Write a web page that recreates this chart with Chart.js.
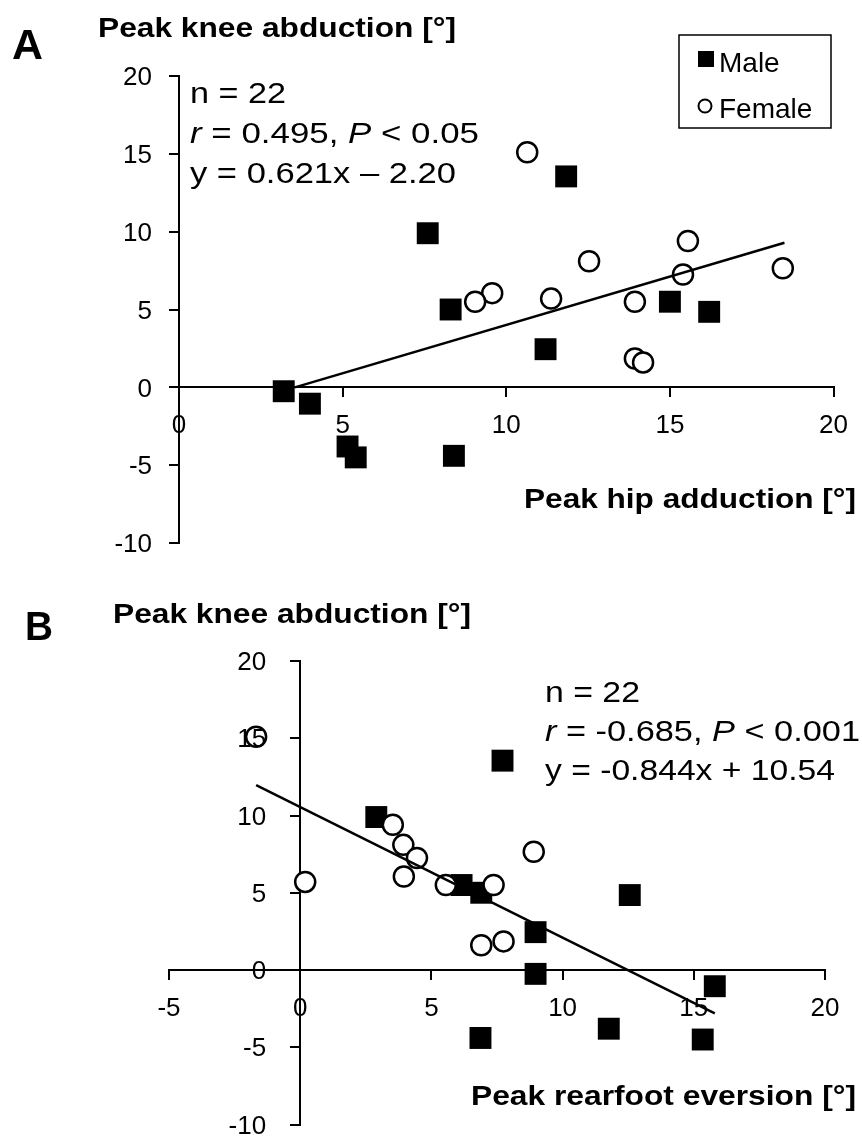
<!DOCTYPE html>
<html>
<head>
<meta charset="utf-8">
<script src="https://cdn.jsdelivr.net/npm/chart.js@4.4.1/dist/chart.umd.min.js"></script>
<style>
  html, body { margin: 0; padding: 0; background: #fff; }
  canvas { display: block; }
</style>
</head>
<body>
<canvas id="chartA" width="862" height="570"></canvas>
<canvas id="chartB" width="862" height="570"></canvas>
<script>
// Valeurs (genou commun aux deux panneaux)
const maleKnee = [13.55, 9.9, 5.5, 5.0, 4.85, 2.45, -0.25, -1.05, -3.8, -4.4, -4.5];
const maleHip = [11.83, 7.6, 15.0, 8.3, 16.2, 11.2, 3.2, 4.0, 5.15, 8.4, 5.4];
const maleRearfoot = [7.71, 2.9, 6.15, 6.9, 12.56, 8.97, 8.97, 15.8, 11.76, 6.87, 15.34];

const femaleKnee = [15.1, 9.4, 8.1, 7.65, 7.25, 6.05, 5.7, 5.5, 5.5, 1.85, 1.6];
const femaleHip = [10.64, 15.55, 12.53, 18.45, 15.4, 9.57, 11.37, 9.05, 13.93, 13.93, 14.18];
const femaleRearfoot = [-1.68, 3.53, 3.93, 8.9, 4.45, 3.95, 0.19, 5.55, 7.37, 7.75, 6.9];

// Droites de régression (extrémités lues)
const trendA_x = [3.54, 18.5];
const trendA_y = [0.0, 9.29];
const trendB_x = [-1.68, 15.8];
const trendB_y = [11.96, -2.8];

const ticksA_x = [0, 20];
const ticksB_x = [-5, 20];
const ticksY = [-10, 20];

const FONT = "'Liberation Sans', Arial, sans-serif";
const TICK_SIZE = 26;

function pts(xs, ys) {
  return xs.map((x, i) => ({ x: x, y: ys[i] }));
}

// Texte étiré horizontalement pour coller à la largeur de la figure
function drawText(ctx, parts, x, y, width) {
  let natural = 0;
  parts.forEach(p => { ctx.font = p[1]; natural += ctx.measureText(p[0]).width; });
  const s = width ? width / natural : 1;
  ctx.save();
  ctx.translate(x, y);
  ctx.scale(s, 1);
  ctx.fillStyle = "#000";
  ctx.textBaseline = "alphabetic";
  ctx.textAlign = "left";
  let cx = 0;
  parts.forEach(p => {
    ctx.font = p[1];
    ctx.fillText(p[0], cx, 0);
    cx += ctx.measureText(p[0]).width;
  });
  ctx.restore();
}

const REG = "29px " + FONT;
const ITA = "italic 29px " + FONT;
const BOLD = "bold 28px " + FONT;

function textPlugin(items) {
  return {
    id: "texts",
    afterDraw(chart) {
      const ctx = chart.ctx;
      items.forEach(t => drawText(ctx, t.parts, t.x, t.y, t.w));
    }
  };
}

// Graduations de l'axe Y, à gauche de l'axe placé en x = 0
function yLabelPlugin(offset) {
  return {
    id: "yLabels",
    afterDraw(chart) {
      const ctx = chart.ctx;
      const ys = chart.scales.y;
      const x0 = chart.scales.x.getPixelForValue(0);
      ctx.save();
      ctx.font = TICK_SIZE + "px " + FONT;
      ctx.fillStyle = "#000";
      ctx.textAlign = "right";
      ctx.textBaseline = "middle";
      ys.ticks.forEach(t => ctx.fillText(String(t.value), x0 - offset, ys.getPixelForValue(t.value) + 2));
      ctx.restore();
    }
  };
}

const legendPlugin = {
  id: "legendBox",
  afterDraw(chart) {
    const ctx = chart.ctx;
    ctx.save();
    ctx.strokeStyle = "#000";
    ctx.lineWidth = 1.5;
    ctx.strokeRect(679, 35, 152, 93);
    ctx.fillStyle = "#000";
    ctx.fillRect(698, 51, 16, 16);
    ctx.beginPath();
    ctx.arc(705, 106, 6.5, 0, Math.PI * 2);
    ctx.lineWidth = 2;
    ctx.stroke();
    ctx.restore();
    drawText(ctx, [["Male", "28px " + FONT]], 719, 72, 0);
    drawText(ctx, [["Female", "28px " + FONT]], 719, 118, 0);
  }
};

function scatterConfig(maleX, femaleX, trendX, trendY, xRange, padding, plugins) {
  const grid = { drawOnChartArea: false, drawTicks: true, tickLength: 9, color: "#000", lineWidth: 2 };
  const border = { display: true, color: "#000", width: 2 };
  return {
    type: "scatter",
    data: {
      datasets: [
        {
          label: "trend",
          type: "line",
          data: pts(trendX, trendY),
          borderColor: "#000",
          borderWidth: 2.5,
          pointRadius: 0,
          fill: false
        },
        {
          label: "Female",
          data: pts(femaleX, femaleKnee),
          pointStyle: "circle",
          pointRadius: 10,
          pointBorderWidth: 2.5,
          pointBorderColor: "#000",
          pointBackgroundColor: "#fff"
        },
        {
          label: "Male",
          data: pts(maleX, maleKnee),
          pointStyle: "rect",
          pointRadius: 15.5,
          pointBorderWidth: 0,
          pointBackgroundColor: "#000"
        }
      ]
    },
    options: {
      responsive: false,
      animation: false,
      devicePixelRatio: 1,
      clip: false,
      layout: { padding: padding },
      plugins: { legend: { display: false }, tooltip: { enabled: false } },
      scales: {
        x: {
          type: "linear", min: xRange[0], max: xRange[1], position: { y: 0 },
          border: border, grid: grid,
          ticks: { stepSize: 5, autoSkip: false, maxRotation: 0, padding: 14, color: "#000", font: { family: FONT, size: TICK_SIZE } }
        },
        y: {
          type: "linear", min: ticksY[0], max: ticksY[1], position: { x: 0 },
          border: border, grid: grid,
          ticks: { stepSize: 5, display: false }
        }
      }
    },
    plugins: plugins
  };
}

new Chart(document.getElementById("chartA"), scatterConfig(
  maleHip, femaleHip, trendA_x, trendA_y, ticksA_x,
  { left: 179, right: 27, top: 76, bottom: 27 },
  [yLabelPlugin(27), legendPlugin, textPlugin([
    { parts: [["A", "bold 43px " + FONT]], x: 12, y: 59, w: 31 },
    { parts: [["Peak knee abduction [°]", BOLD]], x: 98, y: 37, w: 358 },
    { parts: [["Peak hip adduction [°]", BOLD]], x: 524, y: 508, w: 332 },
    { parts: [["n = 22", REG]], x: 190, y: 103, w: 96 },
    { parts: [["r", ITA], [" = 0.495, ", REG], ["P", ITA], [" < 0.05", REG]], x: 190, y: 143, w: 289 },
    { parts: [["y = 0.621x – 2.20", REG]], x: 190, y: 183, w: 266 }
  ])]
));

new Chart(document.getElementById("chartB"), scatterConfig(
  maleRearfoot, femaleRearfoot, trendB_x, trendB_y, ticksB_x,
  { left: 169, right: 37, top: 91, bottom: 15 },
  [yLabelPlugin(34), textPlugin([
    { parts: [["B", "bold 40px " + FONT]], x: 25, y: 70, w: 28 },
    { parts: [["Peak knee abduction [°]", BOLD]], x: 113, y: 53, w: 358 },
    { parts: [["Peak rearfoot eversion [°]", BOLD]], x: 471, y: 535, w: 385 },
    { parts: [["n = 22", REG]], x: 545, y: 132, w: 95 },
    { parts: [["r", ITA], [" = -0.685, ", REG], ["P", ITA], [" < 0.001", REG]], x: 545, y: 171, w: 315 },
    { parts: [["y = -0.844x + 10.54", REG]], x: 545, y: 210, w: 290 }
  ])]
));
</script>
</body>
</html>
